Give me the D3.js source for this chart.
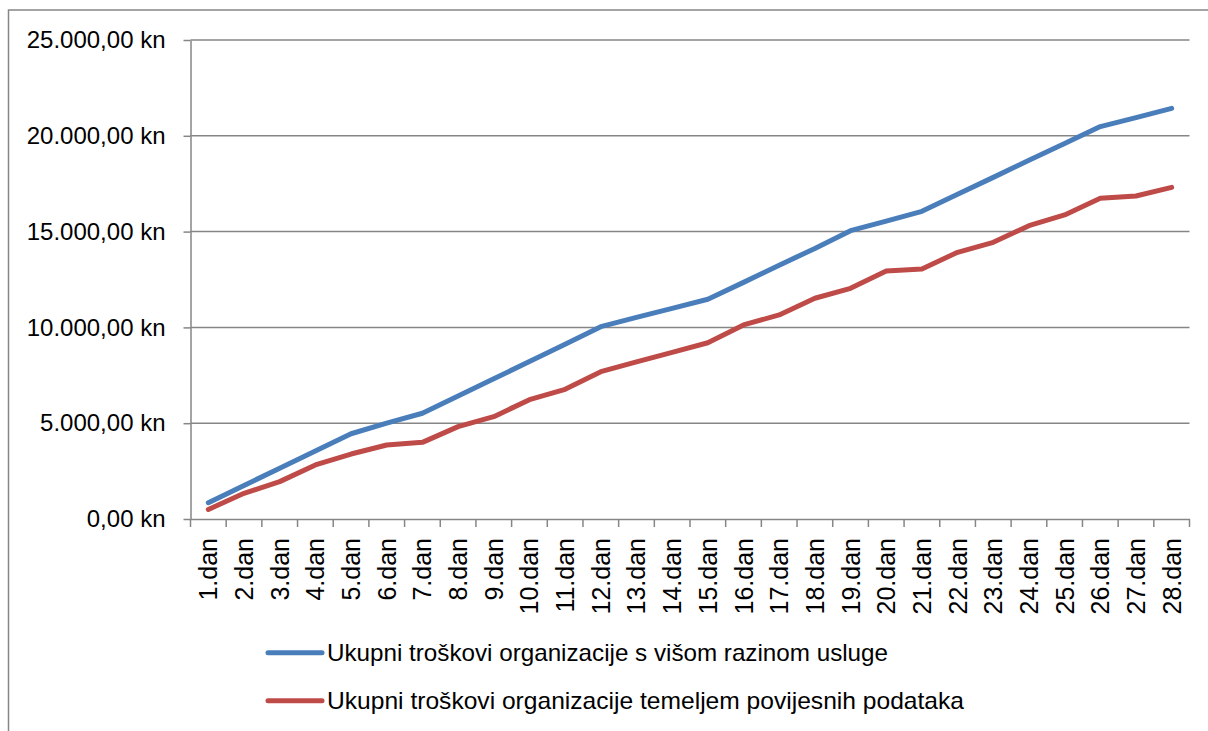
<!DOCTYPE html>
<html>
<head>
<meta charset="utf-8">
<script src="https://cdn.jsdelivr.net/npm/d3@7"></script>
<style>
  html, body { margin: 0; padding: 0; background: #fff; }
  svg { display: block; }
  text { font-family: "Liberation Sans", Arial, sans-serif; fill: #000; }
</style>
</head>
<body>
<svg id="chart" width="1208" height="731"></svg>
<script>
const categories = ["1.dan","2.dan","3.dan","4.dan","5.dan","6.dan","7.dan","8.dan","9.dan","10.dan",
  "11.dan","12.dan","13.dan","14.dan","15.dan","16.dan","17.dan","18.dan","19.dan","20.dan",
  "21.dan","22.dan","23.dan","24.dan","25.dan","26.dan","27.dan","28.dan"];
const seriesNames = [
  "Ukupni troškovi organizacije s višom razinom usluge",
  "Ukupni troškovi organizacije temeljem povijesnih podataka"
];
const blueValues = [850,1750,2650,3550,4450,5000,5520,6420,7320,8220,9120,10040,10520,10990,11470,
  12350,13250,14120,15050,15550,16060,16950,17830,18720,19600,20480,20950,21430];
const redValues = [500,1340,1950,2820,3390,3860,4000,4820,5340,6230,6770,7690,8200,8700,9200,
  10130,10650,11520,12040,12940,13050,13920,14440,15310,15870,16740,16860,17310];
const yTicks = [0,5000,10000,15000,20000,25000];

const colors = ["#4A7EBB", "#BE4B48"];
const gridColor = "#868686";
const svg = d3.select("#chart");

// outer border
svg.append("rect").attr("x", 8.5).attr("y", 10).attr("width", 1220).attr("height", 740)
  .attr("fill", "none").attr("stroke", gridColor).attr("stroke-width", 1.5);

const plotL = 190.5, plotR = 1189.5, plotT = 40, plotB = 519;
const x = d3.scaleBand().domain(categories).range([plotL, plotR]).padding(0);
const y = d3.scaleLinear().domain([0, 25000]).range([plotB, plotT]);

const fmt = v => {
  const s = d3.format(",.2f")(v);
  return s.replace(/,/g, "#").replace(".", ",").replace(/#/g, ".") + " kn";
};

// gridlines
svg.append("g").selectAll("line").data(yTicks.filter(d => d > 0)).join("line")
  .attr("x1", plotL).attr("x2", plotR)
  .attr("y1", d => y(d)).attr("y2", d => y(d))
  .attr("stroke", gridColor).attr("stroke-width", 1.5);

// y axis
const yAxis = svg.append("g").attr("transform", `translate(${plotL},0)`)
  .call(d3.axisLeft(y).tickValues(yTicks).tickFormat(fmt).tickSize(7).tickSizeOuter(0).tickPadding(18));
yAxis.select(".domain").attr("stroke", gridColor).attr("stroke-width", 1.5);
yAxis.selectAll(".tick line").attr("stroke", gridColor).attr("stroke-width", 1.5);
yAxis.selectAll(".tick text").attr("font-size", 24).attr("font-family", "Liberation Sans, Arial, sans-serif").attr("fill", "#000");

// x axis
const xAxis = svg.append("g").attr("transform", `translate(0,${plotB})`)
  .call(d3.axisBottom(x).tickSize(0).tickSizeOuter(0));
xAxis.select(".domain").attr("stroke", gridColor).attr("stroke-width", 1.5);
xAxis.selectAll(".tick text")
  .attr("font-size", 25).attr("font-family", "Liberation Sans, Arial, sans-serif").attr("fill", "#000")
  .attr("text-anchor", "end")
  .attr("transform", "rotate(-90)")
  .attr("x", -19).attr("y", 0).attr("dy", "0.36em");
// tick marks at band boundaries
const bounds = categories.map(c => x(c)).concat([plotR]);
svg.append("g").selectAll("line").data(bounds).join("line")
  .attr("x1", d => d).attr("x2", d => d).attr("y1", plotB).attr("y2", plotB + 8)
  .attr("stroke", gridColor).attr("stroke-width", 1.5);

// lines
const line = d3.line().x((d, i) => x(categories[i]) + x.bandwidth() / 2).y(d => y(d));
[blueValues, redValues].forEach((vals, k) => {
  svg.append("path").datum(vals).attr("d", line)
    .attr("fill", "none").attr("stroke", colors[k]).attr("stroke-width", 5)
    .attr("stroke-linejoin", "round").attr("stroke-linecap", "round");
});

// legend
const legendY = [652.7, 700.7];
const legendW = [561, 637];
seriesNames.forEach((name, k) => {
  svg.append("line").attr("x1", 268).attr("x2", 322).attr("y1", legendY[k]).attr("y2", legendY[k])
    .attr("stroke", colors[k]).attr("stroke-width", 5).attr("stroke-linecap", "round");
  svg.append("text").attr("x", 327).attr("y", legendY[k]).attr("dy", "0.36em")
    .attr("font-size", 24).attr("textLength", legendW[k]).attr("lengthAdjust", "spacingAndGlyphs")
    .text(name);
});
</script>
</body>
</html>
